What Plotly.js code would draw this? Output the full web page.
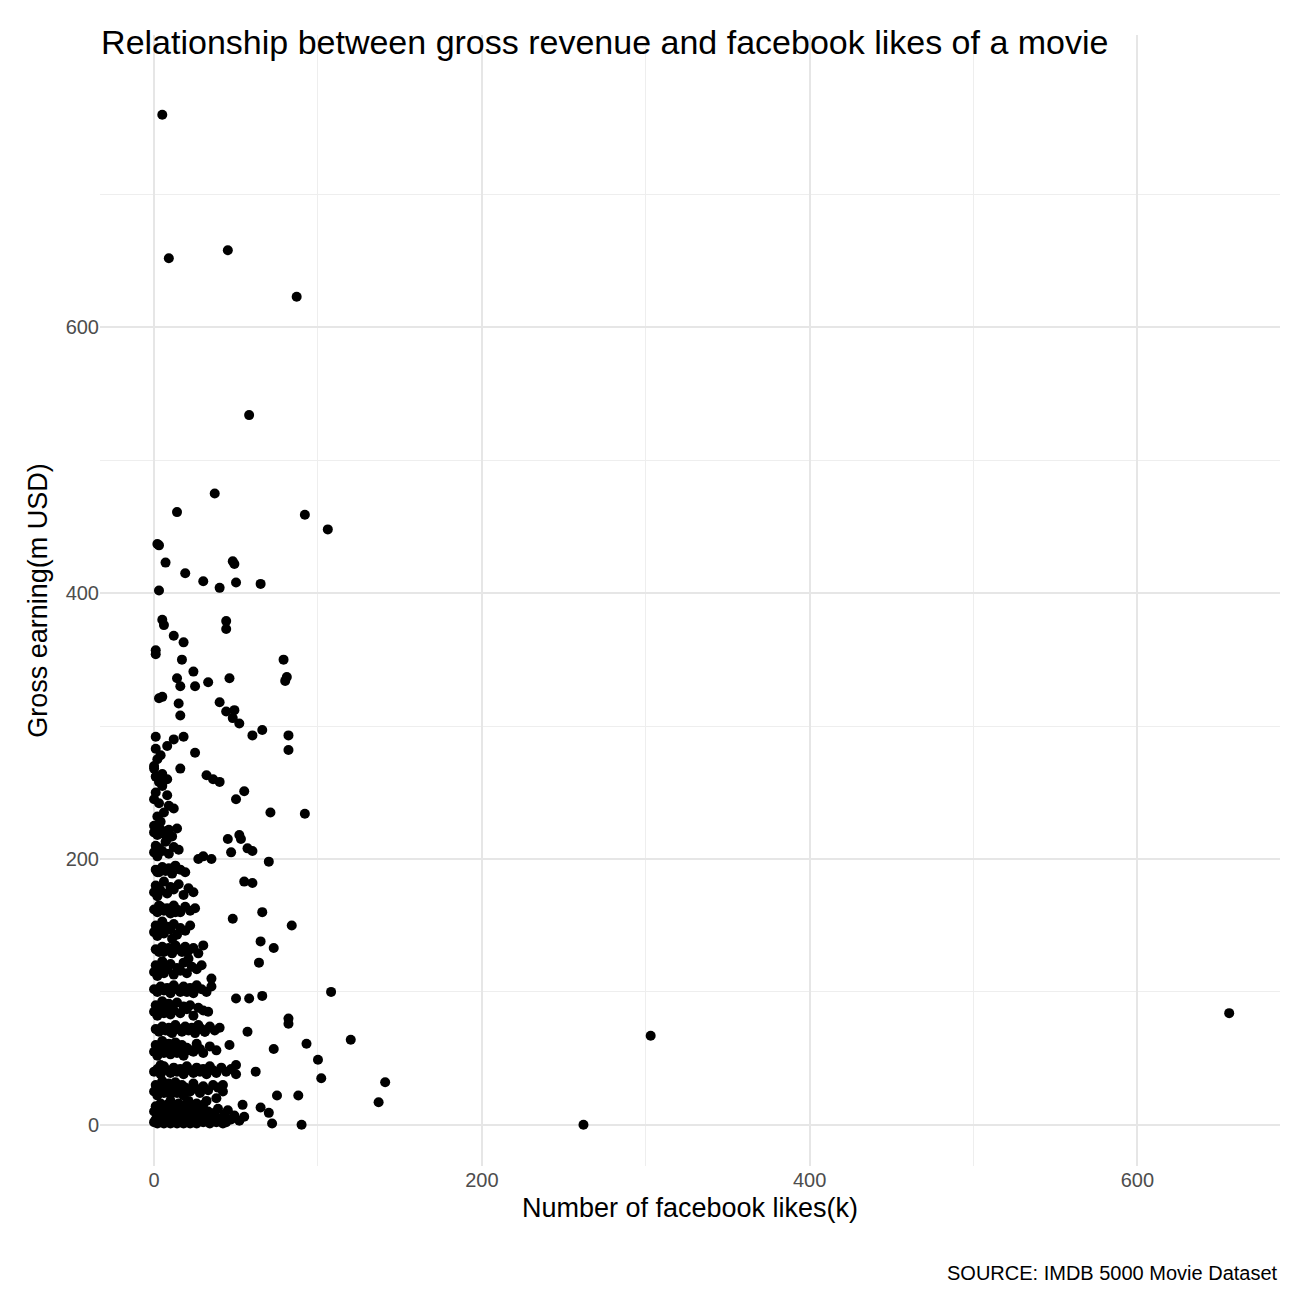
<!DOCTYPE html>
<html><head><meta charset="utf-8">
<script src="https://cdn.plot.ly/plotly-3.0.1.min.js"></script>
<style>body{margin:0}</style></head><body>
<div id="c" style="width:1296px;height:1296px"></div>
<script>
// facebook likes (k) and gross (m USD)
const likesOutliers=[5,9,45,87,58,37,92,106,14,2,3,7,48,49,19,30,50,65,40,3,5,6,44,44,1,1,12,18,79,17,24,81,80,14,16,25,33,46,3,5,15,40,44,49,16,48,52,66,60,18,82,1,12,82,25,8,0,16,32,36,40,55,50,71,92,45,52,53,57,60,47,70,48,84,55,60,35,30,66,73,65,64,58,66,50,108,73,82,82,93,100,120,102,141,137,88,75,70,65,72,90,262,303,656];
const grossOutliers=[760,652,658,623,534,475,459,448,461,437,436,423,424,422,415,409,408,407,404,402,380,376,379,373,357,354,368,363,350,350,341,337,334,336,330,330,333,336,321,322,317,318,311,312,308,306,302,297,293,292,293,292,290,282,280,285,268,268,263,260,258,251,245,235,234,215,218,215,208,206,205,198,155,150,183,182,200,202,160,133,138,122,95,97,95,100,57,80,76,61,49,64,35,32,17,22,22,9,13,1,0,0,67,84];
const likesCluster=[0,1,2,3,4,5,6,7,8,9,10,11,12,13,14,15,16,17,18,19,20,21,22,23,24,25,26,28,30,32,34,36,38,40,42,44,
0,1,2,3,4,5,6,7,8,9,10,11,12,13,14,15,16,17,18,19,20,22,24,26,28,30,33,36,39,42,
0,1,2,3,4,5,6,7,8,9,10,11,12,13,14,15,16,17,18,20,22,24,26,28,30,34,38,
0,1,2,3,4,5,6,7,8,9,10,11,12,14,16,18,20,22,24,27,30,33,
0,1,2,3,4,5,6,7,8,10,12,14,16,18,20,23,26,29,
0,1,2,3,4,5,6,8,10,12,14,16,19,22,
0,1,2,3,4,6,8,10,12,15,18,21,
0,1,2,3,5,7,9,12,15,
0,2,4,6,9,12,
0,1,3,5,8,
1,4,10,20,25,31,35,38,42,46,50,54,57,62,6,3,2,8,13,11,21,27,24,9,
0,1,2,3,4,5,6,7,8,9,10,11,12,13,14,15,16,17,18,19,20,21,22,23,24,25,26,27,28,29,30,31,32,33,35,37,39,41,43,45,47,49,52,55,
0,2,4,6,8,10,12,14,16,18,20,22,24,26,28,30,32,34,36,38,41,44,47,50,
1,3,5,7,9,11,13,15,17,19,21,23,25,27,29,31,34,37,40,
0,2,4,6,8,10,12,14,16,18,20,22,24,26,29,32,35,
1,3,5,7,9,11,13,15,17,19,21,24,27,30,
0,2,4,6,8,10,12,14,16,19,22,25,
1,3,5,7,9,11,13,16,19,
0,2,4,6,8,11,14,
1,3,5,8,
0,2,4,1,3];
const grossCluster=[2,4,1,3,2,5,1,3,2,4,1,3,2,5,1,3,2,4,1,3,2,5,1,3,2,4,1,3,2,4,1,3,2,4,1,2,
25,30,22,28,26,33,24,29,27,31,23,28,26,32,24,29,27,30,22,28,26,25,31,27,24,29,26,30,28,25,
55,60,52,58,56,63,54,59,57,61,53,58,56,62,54,59,57,60,52,58,56,55,61,57,54,59,56,
85,90,82,88,86,93,84,89,87,91,83,88,86,92,84,89,87,90,82,88,86,85,
115,120,112,118,116,123,114,119,117,121,113,118,116,122,114,119,117,120,
145,150,142,148,146,153,144,149,147,151,143,148,146,150,
175,180,172,178,176,183,174,179,177,181,173,178,
205,210,202,208,206,213,204,209,207,
225,232,228,235,222,238,
245,250,242,255,248,
12,45,70,100,40,70,110,20,30,60,45,15,70,40,130,165,190,215,160,140,125,200,175,240,
10,14,8,12,16,9,13,11,15,7,18,10,14,8,12,16,9,13,11,15,7,18,10,14,8,12,16,9,13,11,15,7,18,10,6,9,12,5,8,11,4,7,3,6,
40,42,38,44,41,39,43,40,42,38,44,41,39,43,40,42,38,44,41,39,43,40,42,38,
72,70,74,71,73,69,75,72,70,74,71,73,69,75,72,70,74,71,73,
102,100,104,101,103,99,105,102,100,104,101,103,99,105,102,100,104,
132,130,134,131,133,129,135,132,130,134,131,133,129,135,
162,160,164,161,163,159,165,162,160,164,161,163,
192,190,194,191,193,189,195,192,190,
220,218,222,219,221,217,223,
262,258,264,260,
270,275,278,283,262];
const xs=likesOutliers.concat(likesCluster), ys=grossOutliers.concat(grossCluster);
const gc='#e6e6e6', F='Liberation Sans, Arial';
Plotly.newPlot('c',[{x:xs,y:ys,type:'scatter',mode:'markers',marker:{color:'#000',size:10},hoverinfo:'skip'}],{
 width:1296,height:1296,margin:{l:100,r:16,t:35,b:130},
 paper_bgcolor:'#fff',plot_bgcolor:'#fff',showlegend:false,
 title:{text:'Relationship between gross revenue and facebook likes of a movie',x:0.078,xanchor:'left',y:0.977,font:{family:F,size:34,color:'#000'}},
 xaxis:{range:[-33,687],tickvals:[0,200,400,600],minor:{tickvals:[100,300,500],showgrid:true,gridcolor:'#eeeeee',gridwidth:1},
  gridcolor:gc,gridwidth:2,zeroline:false,showline:false,ticks:'',
  tickfont:{family:F,size:20,color:'#4d4d4d'},
  title:{text:'Number of facebook likes(k)',standoff:8,font:{family:F,size:27,color:'#000'}}},
 yaxis:{range:[-31,820],tickvals:[0,200,400,600],minor:{tickvals:[100,300,500,700],showgrid:true,gridcolor:'#eeeeee',gridwidth:1},
  gridcolor:gc,gridwidth:2,zeroline:false,showline:false,ticks:'',
  tickfont:{family:F,size:20,color:'#4d4d4d'},
  title:{text:'Gross earning(m USD)',standoff:10,font:{family:F,size:27,color:'#000'}}},
 annotations:[{text:'SOURCE: IMDB 5000 Movie Dataset',xref:'paper',yref:'paper',x:1,y:-0.083,xanchor:'right',yanchor:'top',showarrow:false,font:{family:F,size:20,color:'#000'}}]
},{displayModeBar:false});
</script></body></html>
